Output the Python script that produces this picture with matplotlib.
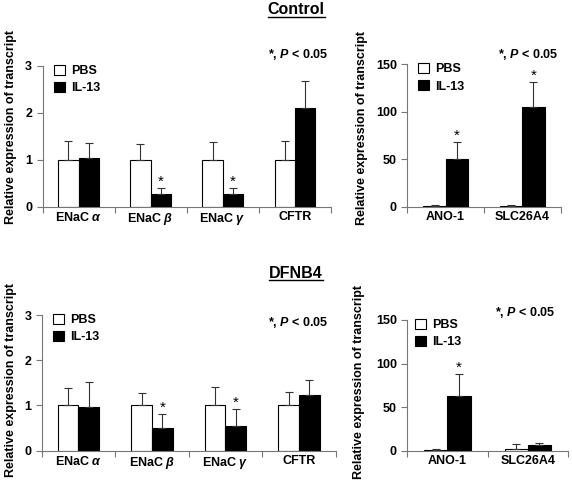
import numpy as np
import matplotlib.pyplot as plt
from matplotlib.patches import Patch
from matplotlib.lines import Line2D

plt.rcParams['font.family'] = ['Liberation Sans', 'DejaVu Sans']
plt.rcParams['font.weight'] = 'bold'
plt.rcParams['font.size'] = 9
plt.rcParams['mathtext.fontset'] = 'custom'
plt.rcParams['mathtext.rm'] = 'Liberation Sans:bold'
plt.rcParams['mathtext.it'] = 'Liberation Sans:bold:italic'
plt.rcParams['mathtext.bf'] = 'Liberation Sans:bold'

# gene labels
genes_left = ['ENaC $\\alpha$', 'ENaC $\\beta$', 'ENaC $\\gamma$', 'CFTR']
genes_right = ['ANO-1', 'SLC26A4']

# Control
ctrl_left_pbs = [1.0, 1.0, 1.0, 1.0]
ctrl_left_pbs_err = [0.40, 0.34, 0.38, 0.41]
ctrl_left_il13 = [1.04, 0.27, 0.28, 2.10]
ctrl_left_il13_err = [0.31, 0.12, 0.11, 0.58]
ctrl_left_sig = [False, True, True, False]

ctrl_right_pbs = [1.0, 1.0]
ctrl_right_pbs_err = [1.0, 0.5]
ctrl_right_il13 = [50.0, 104.5]
ctrl_right_il13_err = [18.0, 26.5]
ctrl_right_sig = [True, True]

# DFNB4
dfnb_left_pbs = [1.0, 1.0, 1.0, 1.0]
dfnb_left_pbs_err = [0.39, 0.27, 0.41, 0.29]
dfnb_left_il13 = [0.96, 0.51, 0.54, 1.23]
dfnb_left_il13_err = [0.55, 0.31, 0.39, 0.33]
dfnb_left_sig = [False, True, True, False]

dfnb_right_pbs = [1.0, 1.5]
dfnb_right_pbs_err = [0.5, 6.5]
dfnb_right_il13 = [62.5, 6.4]
dfnb_right_il13_err = [25.5, 2.5]
dfnb_right_sig = [True, False]

W, H = 572, 496
fig = plt.figure(figsize=(W / 100, H / 100), dpi=100)


def px_axes(x0, y0, x1, y1):
    # pixel box (top-left origin) -> figure axes
    return fig.add_axes([x0 / W, 1 - y1 / H, (x1 - x0) / W, (y1 - y0) / H])


def draw_panel(ax, labels, pbs, pbs_err, il13, il13_err, sig, ymax, step, w, leg_x):
    x = np.arange(len(labels))
    zeros = np.zeros(len(x))
    ekw = dict(ecolor='#333333', elinewidth=0.8, capsize=3, capthick=0.8)
    ax.bar(x - w / 2, pbs, w, color='white', edgecolor='black', linewidth=0.8,
           yerr=[zeros, pbs_err], error_kw=ekw)
    ax.bar(x + w / 2, il13, w, color='black', edgecolor='black', linewidth=0.8,
           yerr=[zeros, il13_err], error_kw=ekw)
    for xi, v, e, s in zip(x, il13, il13_err, sig):
        if s:
            ax.annotate('*', (xi + w / 2, v + e), xytext=(0, 4.5), textcoords='offset points',
                        ha='center', va='center', fontsize=11, fontweight='normal')

    ax.set_xlim(-0.5, len(x) - 0.5)
    ax.set_ylim(0, ymax)
    ax.set_yticks(np.arange(0, ymax + step / 2, step))
    ax.set_xticks(np.arange(len(x) + 1) - 0.5)
    ax.set_xticklabels([])
    ax.set_xticks(x, minor=True)
    ax.set_xticklabels(labels, minor=True)
    ax.tick_params(axis='x', which='major', length=4, color='#777777', width=0.8)
    ax.tick_params(axis='x', which='minor', length=0, pad=3)
    ax.tick_params(axis='y', length=4, color='#777777', width=0.8, pad=3.5)
    for sp in ['top', 'right']:
        ax.spines[sp].set_visible(False)
    for sp in ['left', 'bottom']:
        ax.spines[sp].set_color('#777777')
        ax.spines[sp].set_linewidth(0.8)

    handles = [Patch(facecolor='white', edgecolor='black', linewidth=0.8, label='PBS'),
               Patch(facecolor='black', edgecolor='black', linewidth=0.8, label='IL-13')]
    ax.legend(handles=handles, loc='upper left', bbox_to_anchor=(leg_x, 1.01), frameon=False,
              borderpad=0, borderaxespad=0, handlelength=0.85, handleheight=0.85,
              handletextpad=0.5, labelspacing=0.4, fontsize=9)


def ylabel(x_right, y_center):
    fig.text(x_right / W, 1 - y_center / H, 'Relative expression of transcript',
             rotation=90, ha='right', va='center', fontsize=9)


def ptext(x_right, y_center):
    fig.text(x_right / W, 1 - y_center / H, '*, $P$ < 0.05', ha='right', va='center', fontsize=9)


ax1 = px_axes(42.5, 66, 330.7, 206.7)
draw_panel(ax1, genes_left, ctrl_left_pbs, ctrl_left_pbs_err, ctrl_left_il13, ctrl_left_il13_err,
           ctrl_left_sig, 3, 1, 0.28, 0.04)
ax2 = px_axes(407.3, 64.3, 560.7, 206.7)
draw_panel(ax2, genes_right, ctrl_right_pbs, ctrl_right_pbs_err, ctrl_right_il13, ctrl_right_il13_err,
           ctrl_right_sig, 150, 50, 0.29, 0.07)
ax3 = px_axes(41.7, 315, 335.7, 450.7)
draw_panel(ax3, genes_left, dfnb_left_pbs, dfnb_left_pbs_err, dfnb_left_il13, dfnb_left_il13_err,
           dfnb_left_sig, 3, 1, 0.28, 0.04)
ax4 = px_axes(407.3, 320, 568, 450.7)
draw_panel(ax4, genes_right, dfnb_right_pbs, dfnb_right_pbs_err, dfnb_right_il13, dfnb_right_il13_err,
           dfnb_right_sig, 150, 50, 0.29, 0.05)

ylabel(17, 127)
ylabel(17, 380)
ylabel(368, 128)
ylabel(365, 382)

ptext(328, 55)
ptext(558, 54)
ptext(328, 322)
ptext(555, 312)

titles = []
for label, yc in [('Control', 10), ('DFNB4', 273)]:
    titles.append(fig.text(296 / W, 1 - yc / H, label, ha='center', va='center', fontsize=11.5))

fig.canvas.draw()
inv = fig.transFigure.inverted()
for t in titles:
    bb = t.get_window_extent()
    (x0, y0), (x1, _) = inv.transform([(bb.x0, bb.y0 + 1), (bb.x1, bb.y0 + 1)])
    fig.add_artist(Line2D([x0, x1], [y0, y0], transform=fig.transFigure, color='black', linewidth=1.0))

fig.savefig('out.png', dpi=100)
